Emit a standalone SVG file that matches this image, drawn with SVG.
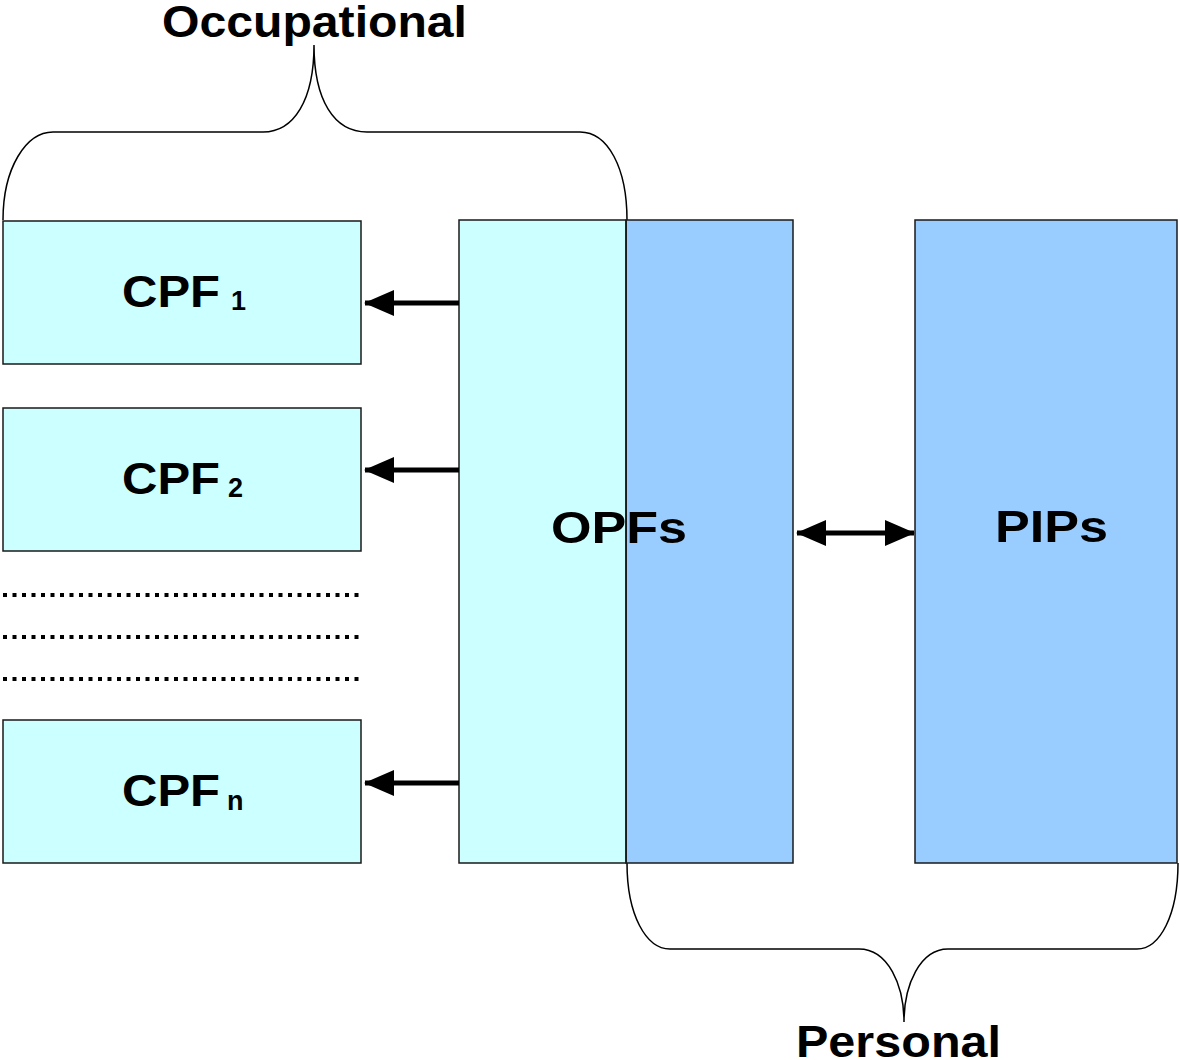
<svg xmlns="http://www.w3.org/2000/svg" width="1180" height="1060" viewBox="0 0 1180 1060">
  <style>
    .box { stroke: #1a1a1a; stroke-width: 1.5; }
    .occ { fill: #ccffff; }
    .per { fill: #99ccff; }
    .lbl { font-family: "Liberation Sans", Arial, sans-serif; font-weight: bold; font-size: 45px; fill: #000; }
    .sub { font-family: "Liberation Sans", Arial, sans-serif; font-weight: bold; font-size: 27px; fill: #000; }
    .brace { fill: none; stroke: #000; stroke-width: 1.5; }
    .arrow { stroke: #000; stroke-width: 5; fill: none; }
    .dots { stroke: #000; stroke-width: 4; stroke-dasharray: 4 5.5; fill: none; }
  </style>
  <defs>
    <marker id="head" viewBox="0 0 30 26" markerWidth="30" markerHeight="26" markerUnits="userSpaceOnUse" refX="29" refY="13" orient="auto-start-reverse">
      <path d="M0,0 L30,13 L0,26 z" fill="#000"/>
    </marker>
  </defs>
  <rect width="1180" height="1060" fill="#fff"/>

  <!-- Occupational brace -->
  <g id="occupational">
    <path class="brace" d="M3,220 C3,168 26,132 53,132 L263,132 C294,132 314,100 314,45 C314,100 334,132 367,132 L580,132 C608,132 627,168 627,220"/>
    <text class="lbl" x="162" y="37" textLength="305" lengthAdjust="spacingAndGlyphs">Occupational</text>
  </g>

  <!-- Personal brace -->
  <g id="personal">
    <path class="brace" d="M627,863 C627,915 646,949 670,949 L859,949 C888,949 904,985 904,1022 C904,985 920,949 948,949 L1137,949 C1160,949 1178,915 1178,863"/>
    <text class="lbl" x="796" y="1057" textLength="205" lengthAdjust="spacingAndGlyphs">Personal</text>
  </g>

  <!-- CPF nodes -->
  <g id="cpf1">
    <rect class="box occ" x="3" y="221" width="358" height="143"/>
    <text class="lbl" x="122" y="307" textLength="98" lengthAdjust="spacingAndGlyphs">CPF</text>
    <text class="sub" x="231" y="310">1</text>
  </g>
  <g id="cpf2">
    <rect class="box occ" x="3" y="408" width="358" height="143"/>
    <text class="lbl" x="122" y="494" textLength="98" lengthAdjust="spacingAndGlyphs">CPF</text>
    <text class="sub" x="228" y="497">2</text>
  </g>
  <g id="cpfn">
    <rect class="box occ" x="3" y="720" width="358" height="143"/>
    <text class="lbl" x="122" y="806" textLength="98" lengthAdjust="spacingAndGlyphs">CPF</text>
    <text class="sub" x="227" y="810">n</text>
  </g>

  <!-- elided CPF rows -->
  <g id="ellipsis">
    <line class="dots" x1="3" y1="595" x2="363" y2="595"/>
    <line class="dots" x1="3" y1="637" x2="363" y2="637"/>
    <line class="dots" x1="3" y1="679" x2="363" y2="679"/>
  </g>

  <!-- OPFs node spanning both domains -->
  <g id="opfs">
    <rect class="box per" x="626" y="220" width="167" height="643"/>
    <rect class="box occ" x="459" y="220" width="167" height="643"/>
    <text class="lbl" x="551" y="543" textLength="136" lengthAdjust="spacingAndGlyphs">OPFs</text>
    <line x1="626" y1="220" x2="626" y2="863" stroke="#1a1a1a" stroke-width="1.5"/>
  </g>

  <!-- PIPs node -->
  <g id="pips">
    <rect class="box per" x="915" y="220" width="262" height="643"/>
    <text class="lbl" x="995" y="542" textLength="113" lengthAdjust="spacingAndGlyphs">PIPs</text>
  </g>

  <!-- connectors -->
  <g id="connectors">
    <line class="arrow" x1="459" y1="303" x2="365" y2="303" marker-end="url(#head)"/>
    <line class="arrow" x1="459" y1="470" x2="365" y2="470" marker-end="url(#head)"/>
    <line class="arrow" x1="459" y1="783" x2="365" y2="783" marker-end="url(#head)"/>
    <line class="arrow" x1="797" y1="533" x2="914" y2="533" marker-start="url(#head)" marker-end="url(#head)"/>
  </g>
</svg>
